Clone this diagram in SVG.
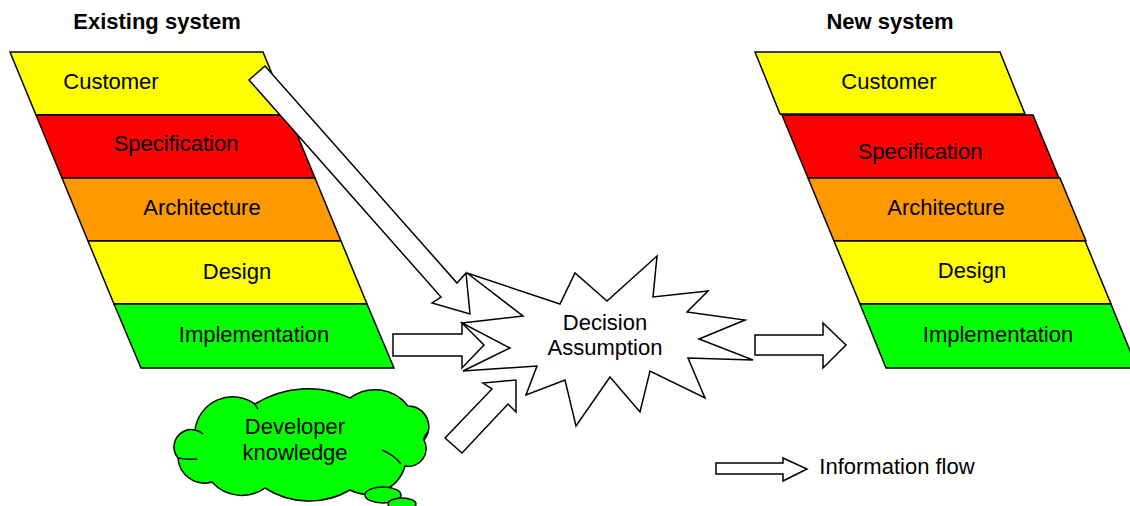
<svg xmlns="http://www.w3.org/2000/svg" width="1130" height="506" viewBox="0 0 1130 506">
<style>
.b{stroke:#000;stroke-width:1.5;stroke-linejoin:miter}
.y{fill:#ffff00}.r{fill:#ff0000}.o{fill:#ff9900}.g{fill:#00ff00}.w{fill:#fff}
text{font-family:"Liberation Sans",Arial,sans-serif;font-size:22px;fill:#000;text-anchor:middle}
.t{font-weight:bold}
.ln{fill:none;stroke:#000;stroke-width:1.5}
</style>
<rect width="1130" height="506" fill="#fff"/>
<text class="t" x="157" y="29">Existing system</text>
<text class="t" x="890" y="29">New system</text>

<g id="existing-system">
<g id="ex-customer"><polygon class="b y" points="10,52 263,52 289,115 36,115"/><text x="111" y="89">Customer</text></g>
<g id="ex-specification"><polygon class="b r" points="36,115 289,115 315,178 62,178"/><text x="176" y="151">Specification</text></g>
<g id="ex-architecture"><polygon class="b o" points="62,178 315,178 341,241 88,241"/><text x="202" y="215">Architecture</text></g>
<g id="ex-design"><polygon class="b y" points="88,241 341,241 367,304 114,304"/><text x="237" y="279">Design</text></g>
<g id="ex-implementation"><polygon class="b g" points="114,304 367,304 394,368 141,368"/><text x="254" y="342">Implementation</text></g>
</g>

<g id="new-system">
<g id="new-customer"><polygon class="b y" points="755,52 1000,52 1025,114 780,114"/><text x="889" y="89">Customer</text></g>
<g id="new-specification"><polygon class="b r" points="782,115 1033,115 1059,178 808,178"/><text x="920" y="159">Specification</text></g>
<g id="new-architecture"><polygon class="b o" points="808,178 1060,178 1086,241 834,241"/><text x="946" y="215">Architecture</text></g>
<g id="new-design"><polygon class="b y" points="834,241 1085,241 1111,304 860,304"/><text x="972" y="278">Design</text></g>
<g id="new-implementation"><polygon class="b g" points="860,304 1111,304 1137,368 886,368"/><text x="998" y="342">Implementation</text></g>
</g>

<g id="decision">
<polygon class="b w" points="467,273 560,304 575,273 607,301 657,256 653,297 708,291 687,312 745,320 699,339 753,360 688,358 705,398 650,371 640,412 610,377 576,426 565,380 526,395 537,366 463,371 510,348 462,323 523,316"/>
<text x="605" y="330">Decision</text>
<text x="605" y="355">Assumption</text>
</g>

<g id="developer-knowledge">
<path class="b g" d="M195,430 A38,38 0 0 1 255,404 A100,100 0 0 1 350,398 A41.7,41.7 0 0 1 408,406 A20.7,20.7 0 0 1 424,440 A17.8,17.8 0 0 1 405,466 A39,39 0 0 1 350,490 A81,81 0 0 1 265,488 A40,40 0 0 1 212,482 A26.6,26.6 0 0 1 178,458 A17.3,17.3 0 0 1 195,430 Z"/>
<path class="ln" d="M195,430 Q200,431 203,434"/>
<path class="ln" d="M178,458 Q188,460 197,459"/>
<path class="ln" d="M382,450 Q394,455 401,464"/>
<path class="ln" d="M424,440 Q424,436 428,432"/>
<path class="ln" d="M255,404 Q256,407 258,409"/>
<ellipse class="b g" cx="383" cy="495" rx="18" ry="8"/>
<ellipse class="b g" cx="402" cy="504" rx="14" ry="6"/>
<text x="295" y="434">Developer</text>
<text x="295" y="460">knowledge</text>
</g>

<g id="connectors">
<polygon class="b w" points="249,80 265,66 457,283 466,273 470,314 432,303 441,297"/>
<polygon class="b w" points="393,334 462,334 462,323 484,345 462,368 462,356 393,356"/>
<polygon class="b w" points="445,438 492,389 483,383 516,380 516,412 508,404 462,453"/>
<polygon class="b w" points="755,335 823,335 823,323 846,345 823,368 823,355 755,355"/>
</g>

<g id="legend">
<polygon class="b w" points="716,463 783,463 783,458 807,469 783,481 783,474 716,474"/>
<text x="897" y="474">Information flow</text>
</g>
</svg>
